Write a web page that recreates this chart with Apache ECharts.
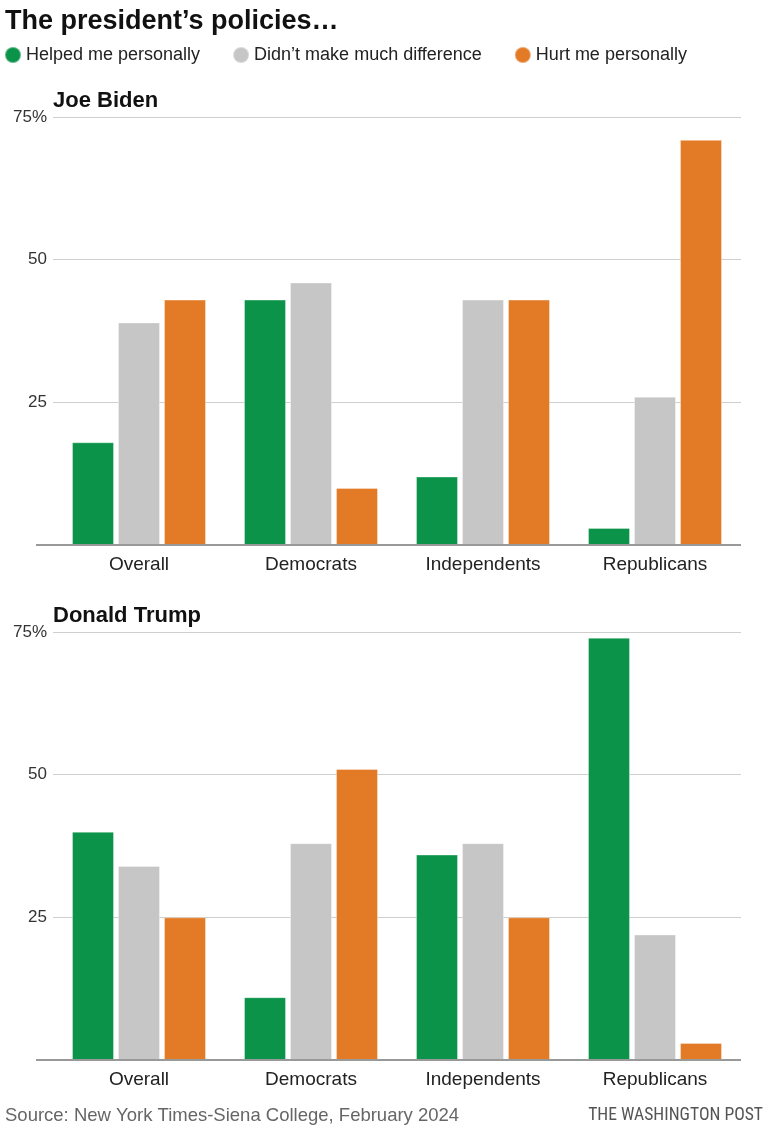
<!DOCTYPE html>
<html><head><meta charset="utf-8">
<script src="https://cdn.jsdelivr.net/npm/echarts@6/dist/echarts.min.js"></script>
<style>html,body{margin:0;padding:0;background:#fff}#c{width:768px;height:1130px}</style>
</head><body><div id="c"></div>
<script>
const categories = ['Overall', 'Democrats', 'Independents', 'Republicans'];
const seriesNames = ['Helped me personally', "Didn’t make much difference", 'Hurt me personally'];
const bidenHelped = [18, 43, 12, 3];
const bidenNoDiff = [39, 46, 43, 26];
const bidenHurt = [43, 10, 43, 71];
const trumpHelped = [40, 11, 36, 74];
const trumpNoDiff = [34, 38, 38, 22];
const trumpHurt = [25, 51, 25, 3];
const yTicks = [0, 25, 50, 75];

const colors = ['#0a9349', '#c6c6c6', '#e27a26'];
const FONT = '"Liberation Sans", Arial, sans-serif';
const NARROW = '"Liberation Sans Narrow", "Roboto Condensed", "Liberation Sans", sans-serif';
const chart = echarts.init(document.getElementById('c'), null, {renderer: 'canvas'});

const grids = [
  {left: 53, right: 27, top: 117, height: 428},
  {left: 53, right: 27, top: 632, height: 428}
];
function xAx(i) {
  return {type: 'category', gridIndex: i, data: categories,
    axisLine: {show: false}, axisTick: {show: false},
    axisLabel: {color: '#222', fontSize: 19, fontFamily: FONT, margin: 10}};
}
function yAx(i) {
  return {type: 'value', gridIndex: i, min: yTicks[0], max: yTicks[yTicks.length - 1], interval: 25,
    axisLine: {show: false}, axisTick: {show: false},
    splitLine: {lineStyle: {color: '#cfcfcf', width: 1}},
    axisLabel: {color: '#333', fontSize: 17, fontFamily: FONT, margin: 6,
      formatter: v => v === 0 ? '' : (v === 75 ? v + '%' : String(v))}};
}
function bars(name, data, idx, g) {
  return {type: 'bar', name: name, xAxisIndex: g, yAxisIndex: g, data: data,
    barWidth: 42, barGap: '9.5%',
    itemStyle: {color: colors[idx], borderColor: 'rgba(255,255,255,0.35)', borderWidth: 1},
    emphasis: {disabled: true}, animation: false};
}

chart.setOption({
  animation: false,
  color: colors,
  title: [
    {text: 'The president’s policies…', left: 0, top: 3,
      textStyle: {fontSize: 27, fontWeight: 'bold', color: '#111', fontFamily: FONT}},
    {text: 'Joe Biden', left: 48, top: 85,
      textStyle: {fontSize: 22, fontWeight: 'bold', color: '#111', fontFamily: FONT}},
    {text: 'Donald Trump', left: 48, top: 600,
      textStyle: {fontSize: 22, fontWeight: 'bold', color: '#111', fontFamily: FONT}},
    {text: 'Source: New York Times-Siena College, February 2024', left: 0, top: 1101,
      textStyle: {fontSize: 18.5, fontWeight: 'normal', color: '#666', fontFamily: FONT}},
    {text: 'THE WASHINGTON POST', right: 0, top: 1102,
      textStyle: {fontSize: 17.6, fontWeight: 'normal', color: '#555', fontFamily: NARROW}}
  ],
  legend: {
    data: seriesNames, left: -1, top: 41, icon: 'circle', itemWidth: 16, itemHeight: 16,
    itemGap: 32, selectedMode: false,
    textStyle: {fontSize: 18, color: '#222', fontFamily: FONT}
  },
  grid: grids,
  xAxis: [xAx(0), xAx(1)],
  yAxis: [yAx(0), yAx(1)],
  series: [
    bars(seriesNames[0], bidenHelped, 0, 0),
    bars(seriesNames[1], bidenNoDiff, 1, 0),
    bars(seriesNames[2], bidenHurt, 2, 0),
    bars(seriesNames[0], trumpHelped, 0, 1),
    bars(seriesNames[1], trumpNoDiff, 1, 1),
    bars(seriesNames[2], trumpHurt, 2, 1)
  ],
  graphic: [
    {type: 'line', shape: {x1: 36, y1: 545, x2: 741, y2: 545}, style: {stroke: '#999', lineWidth: 2}, z: 10},
    {type: 'line', shape: {x1: 36, y1: 1060, x2: 741, y2: 1060}, style: {stroke: '#999', lineWidth: 2}, z: 10}
  ]
});
</script></body></html>
